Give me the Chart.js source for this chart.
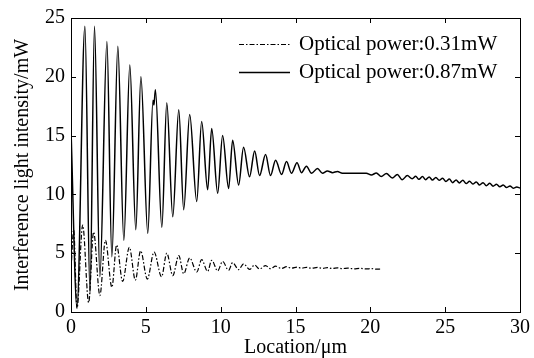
<!DOCTYPE html>
<html>
<head>
<meta charset="utf-8">
<script src="https://cdn.jsdelivr.net/npm/chart.js@4"></script>
<style>
  html, body { margin: 0; padding: 0; background: #fff; }
  #wrap { width: 534px; height: 358px; }
</style>
</head>
<body>
<div id="wrap"><canvas id="interferenceChart" width="534" height="358"></canvas></div>
<script>
// interference light intensity vs location, two optical powers

// 0.87mW series (solid)
var solidX = [0, 0.40, 0.93, 1.27, 1.57, 1.93, 2.40, 2.73, 3.13, 3.53,
  3.93, 4.33, 4.67, 5.13, 5.48, 5.54, 5.64, 6.07, 6.40, 6.80,
  7.20, 7.53, 7.93, 8.40, 8.73, 9.13, 9.40, 9.80, 10.13, 10.53,
  10.80, 11.20, 11.53, 11.93, 12.27, 12.60, 13.00, 13.33, 13.67, 14.07,
  14.40, 14.73, 15.10, 15.40, 15.73, 16.07, 16.47, 16.80, 17.13, 17.47,
  17.80, 18.13, 19.73, 20.07, 20.40, 20.73, 21.07, 21.47, 21.80, 22.13,
  22.47, 22.80, 23.03, 23.25, 23.48, 23.70, 23.93, 24.15, 24.38, 24.60,
  24.83, 25.05, 25.28, 25.50, 25.73, 25.95, 26.18, 26.40, 26.63, 26.85,
  27.08, 27.30, 27.53, 27.75, 27.98, 28.20, 28.43, 28.65, 28.88, 29.10,
  29.33, 29.55, 29.78, 30.00];
var solidY = [15.5, 0.4, 24.3, 1.6, 24.3, 3.0, 23.0, 4.7, 22.6, 6.1,
  21.0, 7.0, 20.0, 6.7, 18.0, 17.6, 18.9, 7.2, 17.8, 8.1,
  17.2, 8.7, 16.8, 9.4, 16.2, 10.4, 15.6, 10.1, 15.0, 10.5,
  14.6, 10.8, 14.0, 11.5, 13.7, 11.6, 13.4, 11.6, 12.9, 11.7,
  12.8, 11.8, 12.7, 11.85, 12.4, 11.8, 12.2, 11.8, 12.0, 11.85,
  11.95, 11.8, 11.8, 11.65, 11.82, 11.52, 11.78, 11.40, 11.70, 11.25,
  11.60, 11.33, 11.54, 11.28, 11.52, 11.25, 11.48, 11.22, 11.44, 11.20,
  11.38, 11.10, 11.30, 11.00, 11.22, 10.98, 11.20, 10.92, 11.12, 10.88,
  11.06, 10.80, 11.00, 10.74, 10.94, 10.70, 10.86, 10.64, 10.80, 10.58,
  10.72, 10.52, 10.62, 10.55];

// 0.31mW series (dash-dot)
var dashX = [0, 0.18, 0.40, 0.78, 1.18, 1.51, 1.93, 2.30, 2.73, 3.05,
  3.45, 3.90, 4.30, 4.65, 5.10, 5.55, 6.05, 6.40, 6.80, 7.20,
  7.53, 7.93, 8.40, 8.73, 9.13, 9.40, 9.80, 10.13, 10.53, 10.80,
  11.20, 11.53, 11.93, 12.27, 12.60, 13.00, 13.33, 13.67, 14.07, 14.40,
  14.73, 15.10, 15.40, 15.73, 16.07, 16.47, 16.80, 17.13, 17.47, 17.80,
  18.13, 18.50, 18.90, 19.30, 19.70, 20.10, 20.40, 20.70];
var dashY = [3.5, 7.0, 0.3, 7.4, 0.8, 6.8, 1.4, 6.1, 2.1, 5.7,
  2.6, 5.5, 2.7, 5.2, 2.8, 5.1, 3.0, 5.0, 3.1, 4.8,
  3.25, 4.6, 3.4, 4.45, 3.45, 4.4, 3.5, 4.3, 3.55, 4.2,
  3.6, 4.1, 3.62, 4.0, 3.65, 3.95, 3.68, 3.9, 3.7, 3.85,
  3.72, 3.82, 3.72, 3.8, 3.72, 3.79, 3.71, 3.77, 3.7, 3.75,
  3.69, 3.73, 3.67, 3.71, 3.66, 3.69, 3.64, 3.66];

var xTicks = [0, 5, 10, 15, 20, 25, 30];
var yTicks = [0, 5, 10, 15, 20, 25];
var seriesLabels = ['Optical power:0.31mW', 'Optical power:0.87mW'];

var FONT = '"Liberation Serif", "Times New Roman", serif';
var DASH_DOT = [5, 2, 1.5, 2];

function toPoints(xs, ys) {
  return xs.map(function (x, i) { return { x: x, y: ys[i] }; });
}

// box + inward ticks on all four sides, like the original figure
var boxPlugin = {
  id: 'boxTicks',
  afterDraw: function (chart) {
    var ctx = chart.ctx;
    var a = chart.chartArea;
    var xs = chart.scales.x, ys = chart.scales.y;
    var len = 5;
    ctx.save();
    ctx.strokeStyle = '#000';
    ctx.lineWidth = 1;
    ctx.beginPath();
    xTicks.forEach(function (v) {
      var px = Math.round(xs.getPixelForValue(v)) + 0.5;
      ctx.moveTo(px, a.bottom); ctx.lineTo(px, a.bottom - len);
      ctx.moveTo(px, a.top); ctx.lineTo(px, a.top + len);
    });
    yTicks.forEach(function (v) {
      var py = Math.round(ys.getPixelForValue(v)) + 0.5;
      ctx.moveTo(a.left, py); ctx.lineTo(a.left + len, py);
      ctx.moveTo(a.right, py); ctx.lineTo(a.right - len, py);
    });
    ctx.stroke();
    ctx.strokeRect(Math.round(a.left) + 0.5, Math.round(a.top) + 0.5,
      Math.round(a.right - a.left), Math.round(a.bottom - a.top));
    ctx.restore();
  }
};

// legend inside the plot, top right
var legendPlugin = {
  id: 'innerLegend',
  afterDraw: function (chart) {
    var ctx = chart.ctx;
    var rows = [
      { y: 44, dash: DASH_DOT, text: seriesLabels[0] },
      { y: 72, dash: [], text: seriesLabels[1] }
    ];
    ctx.save();
    ctx.fillStyle = '#000';
    ctx.strokeStyle = '#000';
    ctx.font = '21px ' + FONT;
    ctx.textBaseline = 'middle';
    rows.forEach(function (r) {
      ctx.beginPath();
      ctx.lineWidth = r.dash.length ? 1.2 : 1.5;
      ctx.setLineDash(r.dash);
      ctx.moveTo(239, r.y + 0.5);
      ctx.lineTo(290, r.y + 0.5);
      ctx.stroke();
      ctx.setLineDash([]);
      ctx.fillText(r.text, 299, r.y);
    });
    ctx.restore();
  }
};

document.addEventListener('DOMContentLoaded', function () {
  var canvas = document.getElementById('interferenceChart');
  var ctx = canvas.getContext('2d');
  new Chart(ctx, {
    type: 'line',
    data: {
      datasets: [
        {
          label: seriesLabels[0],
          data: toPoints(dashX, dashY),
          borderColor: '#000',
          borderWidth: 1.2,
          borderDash: DASH_DOT,
          pointRadius: 0,
          cubicInterpolationMode: 'monotone',
          fill: false
        },
        {
          label: seriesLabels[1],
          data: toPoints(solidX, solidY),
          borderColor: '#000',
          borderWidth: 1.5,
          pointRadius: 0,
          cubicInterpolationMode: 'monotone',
          fill: false
        }
      ]
    },
    options: {
      responsive: false,
      animation: false,
      layout: { padding: { top: 18, right: 13, left: 0, bottom: 0 } },
      plugins: {
        legend: { display: false },
        tooltip: { enabled: false }
      },
      scales: {
        x: {
          type: 'linear',
          min: 0,
          max: 30,
          afterFit: function (s) { s.height = 46; },
          grid: { display: false, drawTicks: false },
          border: { display: false },
          ticks: {
            stepSize: 5,
            color: '#000',
            padding: 4,
            maxRotation: 0,
            font: { family: FONT, size: 20 }
          },
          title: {
            display: true,
            text: 'Location/\u03bcm',
            color: '#000',
            padding: { top: 0, bottom: -2 },
            font: { family: FONT, size: 20 }
          }
        },
        y: {
          min: 0,
          max: 25,
          afterFit: function (s) { s.width = 71; },
          grid: { display: false, drawTicks: false },
          border: { display: false },
          ticks: {
            stepSize: 5,
            color: '#000',
            padding: 6,
            font: { family: FONT, size: 20 }
          },
          title: {
            display: true,
            text: 'Interference light intensity/mW',
            color: '#000',
            padding: { top: 11, bottom: 0 },
            font: { family: FONT, size: 20 }
          }
        }
      }
    },
    plugins: [boxPlugin, legendPlugin]
  });
});
</script>
</body>
</html>
